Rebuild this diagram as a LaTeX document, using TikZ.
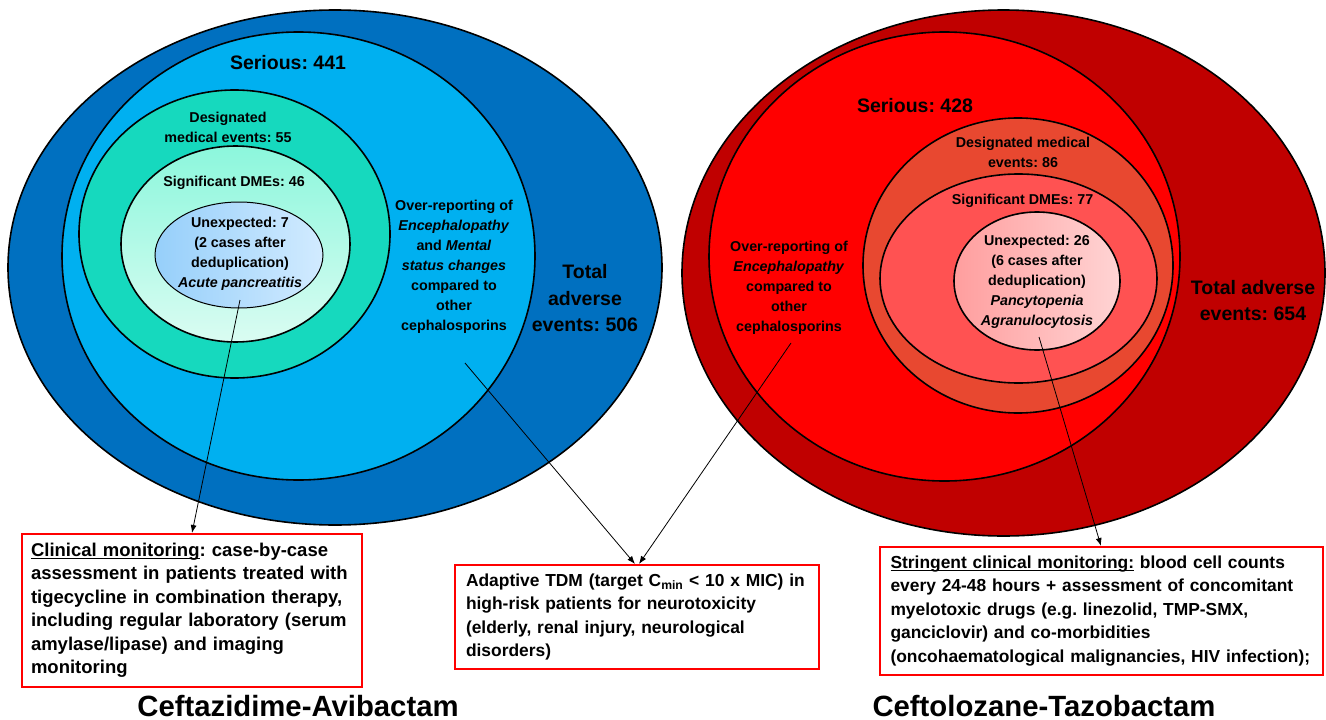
\documentclass[tikz,border=0pt]{standalone}
\usepackage{fontspec}
\setmainfont{Liberation Sans}
\frenchspacing
\newcommand{\ulin}[1]{\setbox0\hbox{#1}\rlap{\rule[-2.6pt]{\wd0}{1.4pt}}\box0\relax}
\usetikzlibrary{shapes.geometric,arrows.meta}
\definecolor{caTotal}{RGB}{0,112,192}
\definecolor{caSerious}{RGB}{0,176,240}
\definecolor{caDme}{RGB}{22,217,190}
\definecolor{caSigTop}{RGB}{140,247,220}
\definecolor{caSigBot}{RGB}{218,252,242}
\definecolor{caUnexpA}{RGB}{150,207,250}
\definecolor{caUnexpB}{RGB}{210,235,255}
\definecolor{ctTotal}{RGB}{192,0,0}
\definecolor{ctSerious}{RGB}{255,0,0}
\definecolor{ctDme}{RGB}{232,72,48}
\definecolor{ctSig}{RGB}{255,82,82}
\definecolor{ctUnexpA}{RGB}{255,158,158}
\definecolor{ctUnexpB}{RGB}{255,212,212}
\begin{document}
\begin{tikzpicture}[x=1pt,y=-1pt,
    ring/.style={ellipse,draw=black,line width=1.6pt,inner sep=0pt},
    lbl/.style={font=\bfseries\fontsize{14.3}{20}\selectfont,align=center,inner sep=0pt},
    biglbl/.style={font=\bfseries\fontsize{19.5}{26.5}\selectfont,align=center,inner sep=0pt},
    advice/.style={draw=red,line width=2pt,fill=white,align=left,inner xsep=11pt,font=\bfseries\fontsize{17.4}{23.5}\selectfont},
    drug/.style={font=\bfseries\fontsize{29.3}{34}\selectfont,inner sep=0pt},
    link/.style={-{Latex[length=8pt,width=6pt]},line width=0.8pt}]
  \useasboundingbox (0,0) rectangle (1326,720);
  \node[ring,fill=caTotal,minimum width=654pt,minimum height=515pt] (caTot) at (335,267.5) {};
  \node[ring,fill=caSerious,minimum width=473pt,minimum height=448pt] (caSer) at (298.5,256) {};
  \node[ring,fill=caDme,minimum width=311pt,minimum height=288pt] (caDm) at (234.5,234) {};
  \node[ring,top color=caSigTop,bottom color=caSigBot,minimum width=229pt,minimum height=196pt] (caSg) at (235.5,244) {};
  \node[ring,line width=1pt,left color=caUnexpA,right color=caUnexpB,minimum width=168pt,minimum height=106pt] (caUx) at (239,255) {};
  \node[ring,fill=ctTotal,minimum width=643pt,minimum height=526pt] (ctTot) at (1003.5,273) {};
  \node[ring,fill=ctSerious,minimum width=471pt,minimum height=449pt] (ctSer) at (944.5,256.5) {};
  \node[ring,fill=ctDme,minimum width=310pt,minimum height=295pt] (ctDm) at (1018,265.5) {};
  \node[ring,fill=ctSig,minimum width=277pt,minimum height=209pt] (ctSg) at (1018.5,278.5) {};
  \node[ring,left color=ctUnexpA,right color=ctUnexpB,minimum width=166pt,minimum height=138pt] (ctUx) at (1037,281) {};

  \node[biglbl] (caSerLbl) at (288,63) {Serious: 441};
  \node[lbl] (caDmLbl) at (228,127) {Designated\\medical events: 55};
  \node[lbl] (caSgLbl) at (234,183) {Significant DMEs: 46};
  \node[lbl] (caUxLbl) at (240,253.5) {Unexpected: 7\\(2 cases after\\deduplication)\\\textit{Acute pancreatitis}};
  \node[lbl] (caOverLbl) at (454,266.5) {Over-reporting of\\\textit{Encephalopathy}\\and \textit{Mental}\\\textit{status changes}\\compared to\\other\\cephalosporins};
  \node[biglbl] (caTotLbl) at (585,298.5) {Total\\adverse\\events: 506};
  \node[biglbl] (ctSerLbl) at (915,106) {Serious: 428};
  \node[lbl] (ctDmLbl) at (1023,152.5) {Designated medical\\events: 86};
  \node[lbl] (ctSgLbl) at (1022.5,201) {Significant DMEs: 77};
  \node[lbl] (ctUxLbl) at (1037,281.5) {Unexpected: 26\\(6 cases after\\deduplication)\\\textit{Pancytopenia}\\\textit{Agranulocytosis}};
  \node[lbl] (ctOverLbl) at (789,287.5) {Over-reporting of\\\textit{Encephalopathy}\\compared to\\other\\cephalosporins};
  \node[biglbl] (ctTotLbl) at (1253,300.5) {Total adverse\\events: 654};

  \node[advice,font=\bfseries\fontsize{18.5}{23.5}\selectfont,inner xsep=9pt,text width=322pt,minimum width=340pt,minimum height=153pt] (caCare) at (192,610.5)
    {\ulin{Clinical monitoring}: case-by-case\\assessment in patients treated with\\tigecycline in combination therapy,\\including regular laboratory (serum\\amylase/lipase) and imaging\\monitoring};
  \node[advice,text width=342pt,minimum width=364pt,minimum height=104pt] (tdm) at (637,617)
    {Adaptive TDM (target C\textsubscript{min} < 10 x MIC) in\\high-risk patients for neurotoxicity\\(elderly, renal injury, neurological\\disorders)};
  \node[advice,text width=421pt,minimum width=443pt,minimum height=128pt] (ctCare) at (1101,611)
    {\ulin{Stringent clinical monitoring:} blood cell counts\\every 24-48 hours + assessment of concomitant\\myelotoxic drugs (e.g. linezolid, TMP-SMX,\\ganciclovir) and co-morbidities\\(oncohaematological malignancies, HIV infection);};

  \node[drug] (caName) at (298,706) {Ceftazidime-Avibactam};
  \node[drug] (ctName) at (1044,706) {Ceftolozane-Tazobactam};

  \coordinate (caUxTail) at (240,300);
  \coordinate (caOverTail) at (465,363);
  \coordinate (ctOverTail) at (791,343);
  \coordinate (ctUxTail) at (1039,337);
  \draw[link] (caUxTail) -- (caCare.north);
  \draw[link] (caOverTail) -- ([xshift=-2pt]tdm.north);
  \draw[link] (ctOverTail) -- ([xshift=2pt]tdm.north);
  \draw[link] (ctUxTail) -- (ctCare.north);
\end{tikzpicture}
\end{document}
